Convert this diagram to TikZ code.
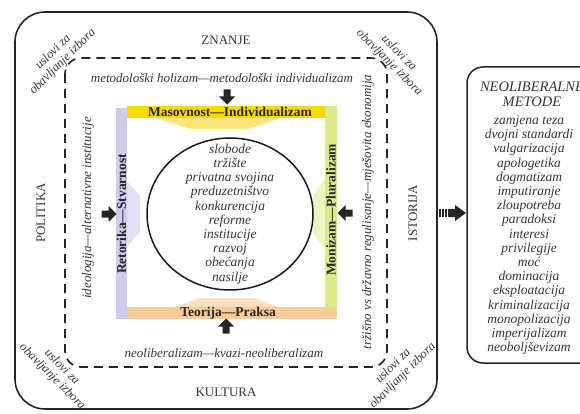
\documentclass[tikz,border=0pt]{standalone}
\usepackage{fontspec}
\setmainfont{Liberation Serif}
\usetikzlibrary{shapes.geometric}
\definecolor{txt}{HTML}{363636}
\definecolor{yelband}{HTML}{F8DA00}
\definecolor{yelpale}{HTML}{FBE47A}
\definecolor{lavband}{HTML}{CFCBEF}
\definecolor{lavpale}{HTML}{E3E0F6}
\definecolor{grnband}{HTML}{DDEA8A}
\definecolor{grnpale}{HTML}{EDF4C0}
\definecolor{pchband}{HTML}{F8CC98}
\definecolor{pchpale}{HTML}{FCDFBE}
\begin{document}
\begin{tikzpicture}[x=1pt,y=-1pt,
  lbl/.style={font=\fontsize{13}{15}\selectfont, text=txt, inner sep=0},
  itl/.style={font=\fontsize{13.5}{14.2}\selectfont\itshape, text=txt, inner sep=0, align=center},
  hdr/.style={font=\fontsize{14.5}{15}\selectfont\itshape, text=txt, inner sep=0, align=center},
  dtxt/.style={font=\fontsize{13}{14}\selectfont\itshape, text=txt, inner sep=0},
  corner/.style={font=\fontsize{12.5}{13.5}\selectfont\itshape, text=txt, inner sep=0, align=center},
  band/.style={font=\fontsize{13.5}{15}\selectfont\bfseries, text=black!85, inner sep=0},
  blk/.pic={\fill[black!85] (-7.5,-3.5) -- (-0.5,-3.5) -- (-0.5,-8) -- (7.5,0) -- (-0.5,8) -- (-0.5,3.5) -- (-7.5,3.5) -- cycle;}
]
\useasboundingbox (0,0) rectangle (580,414);
\clip (0,0) rectangle (580,414);

% outer and dashed frames
\draw[rounded corners=30, line width=1.6, black!85] (15,12) rectangle (437,409);
\draw[rounded corners=16, line width=1.7, black!85, dash pattern=on 9pt off 6pt] (65,58) rectangle (387,367);

% outer labels
\node[lbl] (znanje) at (226,40) {ZNANJE};
\node[lbl] (kultura) at (226,392) {KULTURA};
\node[lbl, rotate=90] (politika) at (41,213) {POLITIKA};
\node[lbl, rotate=90] (istorija) at (413,213) {ISTORIJA};

% corner labels
\node[corner, rotate=45] (ctl) at (58,57) {uslovi za\\obavljanje izbora};
\node[corner, rotate=-45] (ctr) at (394,58) {uslovi za\\obavljanje izbora};
\node[corner, rotate=-45] (cbl) at (57,372) {uslovi za\\obavljanje izbora};
\node[corner, rotate=45] (cbr) at (398,371) {uslovi za\\obavljanje izbora};

% dashed frame labels
\node[dtxt] (dtop) at (222,78) {metodološki holizam—metodološki individualizam};
\node[dtxt] (dbot) at (224,353) {neoliberalizam—kvazi-neoliberalizam};
\node[dtxt, rotate=90] (dleft) at (88,208) {ideologija—alternativne institucije};
\node[dtxt, rotate=90] (dright) at (368,212) {tržišno vs državno regulisanje—mješovita ekonomija};

% pale inward arrows
\fill[yelpale] (156,118) -- (280,118) -- (266,123) -- (248,129) -- (190,129) -- (172,123) -- cycle;
\fill[lavpale] (126,180) -- (133,188) -- (140,196) -- (140,232) -- (133,240) -- (126,248) -- cycle;
\fill[grnpale] (325,180) -- (318,188) -- (313,196) -- (313,232) -- (318,240) -- (325,248) -- cycle;
\fill[pchpale] (172,308) -- (186,303) -- (200,298) -- (254,298) -- (268,303) -- (280,308) -- cycle;

% bands
\fill[lavband] (116,108) rectangle (127,319);
\fill[yelband] (127,106) rectangle (325,118);
\fill[grnband] (325,106) rectangle (337,308);
\fill[pchband] (127,307) rectangle (337,319);

\node[band] (mas) at (230,112) {Masovnost—Individualizam};
\node[band] (teo) at (228,313) {Teorija—Praksa};
\node[band, rotate=90] (ret) at (121.5,214) {Retorika—Stvarnost};
\node[band, rotate=90] (mon) at (331,210) {Monizam—Pluralizam};

% black arrows
\pic[rotate=-90] at (227,97) {blk};
\pic[rotate=90] at (226,326) {blk};
\pic at (109,214) {blk};
\pic[rotate=180] at (345,213) {blk};

% central ellipse
\node[draw, ellipse, line width=1.5, black!90, minimum width=166pt, minimum height=152pt, inner sep=0] (circ) at (230,214) {};
\node[itl] (circtxt) at (230,214) {slobode\\tržište\\privatna svojina\\preduzetništvo\\konkurencija\\reforme\\institucije\\razvoj\\obećanja\\nasilje};

% striped arrow to right box
\fill[black!85] (439,209) rectangle (440.6,217);
\fill[black!85] (442,209) rectangle (443.6,217);
\fill[black!85] (445,209) rectangle (446.6,217);
\fill[black!85] (448,209) -- (455,209) -- (455,205) -- (466,213) -- (455,221) -- (455,217) -- (448,217) -- cycle;

% right box
\draw[rounded corners=16, line width=1.5, black!85] (467,67) rectangle (600,363);
\node[hdr] (nmhead) at (532,94) {NEOLIBERALNE\\METODE};
\node[itl] (nmlist) at (529,235) {zamjena teza\\dvojni standardi\\vulgarizacija\\apologetika\\dogmatizam\\imputiranje\\zloupotreba\\paradoksi\\interesi\\privilegije\\moć\\dominacija\\eksploatacija\\kriminalizacija\\monopolizacija\\imperijalizam\\neoboljševizam};
\end{tikzpicture}
\end{document}
